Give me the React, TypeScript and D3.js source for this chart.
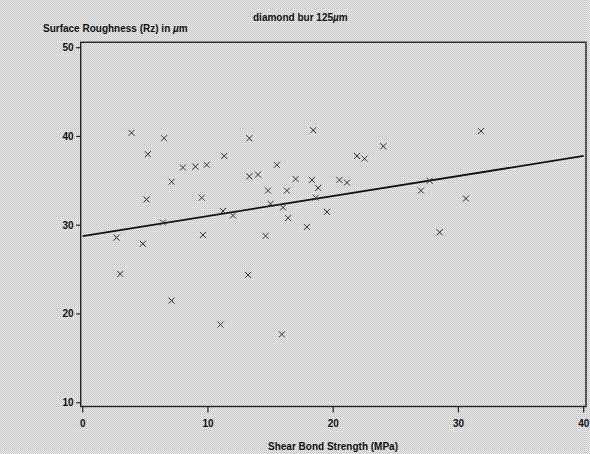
import React from 'react';
import * as d3 from 'd3';

// shear bond strength (MPa) vs surface roughness Rz (µm)
const shearBond = [
  2.7, 3.0, 3.9, 4.8, 5.2, 5.1, 6.5, 6.4, 7.1, 7.1, 8.0, 9.0, 9.5, 9.6, 9.9, 11.0,
  11.3, 11.2, 12.0, 13.3, 13.3, 13.2, 14.0, 14.6, 14.8, 15.0, 15.5, 15.9, 16.0, 16.3,
  16.4, 17.0, 17.9, 18.3, 18.4, 18.6, 18.8, 19.5, 20.5, 21.1, 21.9, 22.5, 24.0, 27.0,
  27.7, 28.5, 30.6, 31.8,
];
const roughness = [
  28.6, 24.5, 40.4, 27.9, 38.0, 32.9, 39.8, 30.3, 34.9, 21.5, 36.5, 36.6, 33.1, 28.9, 36.8, 18.8,
  37.8, 31.6, 31.1, 39.8, 35.5, 24.4, 35.7, 28.8, 33.9, 32.4, 36.8, 17.7, 32.0, 33.9,
  30.8, 35.2, 29.8, 35.1, 40.7, 33.1, 34.2, 31.5, 35.1, 34.8, 37.8, 37.5, 38.9, 33.9,
  35.0, 29.2, 33.0, 40.6,
];
const fitLine = [
  { x: 0, y: 28.78 },
  { x: 40, y: 37.8 },
];
const xTicks = [0, 10, 20, 30, 40];
const yTicks = [10, 20, 30, 40, 50];

const W = 590;
const H = 454;
const font = "'Liberation Sans', Arial, sans-serif";

export default function App() {
  const x = d3.scaleLinear().domain([0, 40]).range([82.7, 583.7]);
  const y = d3.scaleLinear().domain([10, 50]).range([402.7, 47.7]);
  const box = { left: 80.7, top: 42.3, right: 586, bottom: 406.5 };

  const line = d3
    .line<{ x: number; y: number }>()
    .x((d) => x(d.x))
    .y((d) => y(d.y));

  return (
    <svg
      width={W}
      height={H}
      style={{ position: 'absolute', left: 0, top: 0 }}
      fontFamily={font}
    >
      <defs>
        <pattern id="dither" width="2" height="2" patternUnits="userSpaceOnUse">
          <rect width="2" height="2" fill="#ececec" />
          <rect x="0" y="0" width="1" height="1" fill="#bdbdbd" />
          <rect x="1" y="1" width="1" height="1" fill="#cdcdcd" />
        </pattern>
      </defs>
      <rect width={W} height={H} fill="url(#dither)" shapeRendering="crispEdges" />

      {/* frame */}
      <rect
        x={box.left}
        y={box.top}
        width={box.right - box.left}
        height={box.bottom - box.top}
        fill="none"
        stroke="#222"
        strokeWidth={1.4}
      />

      {/* y axis */}
      {yTicks.map((t) => (
        <g key={'y' + t} transform={`translate(0,${y(t)})`}>
          <line x1={box.left - 4.5} x2={box.left} stroke="#222" strokeWidth={1.2} />
          <text x={73.5} dy="0.35em" textAnchor="end" fontSize={10} fontWeight="bold" fill="#111">
            {t}
          </text>
        </g>
      ))}

      {/* x axis */}
      {xTicks.map((t) => (
        <g key={'x' + t} transform={`translate(${x(t)},0)`}>
          <line y1={box.bottom} y2={box.bottom + 6} stroke="#222" strokeWidth={1.2} />
          <text y={427} textAnchor="middle" fontSize={10} fontWeight="bold" fill="#111">
            {t}
          </text>
        </g>
      ))}

      {/* regression line */}
      <path d={line(fitLine) || ''} fill="none" stroke="#111" strokeWidth={1.8} />

      {/* points */}
      {shearBond.map((v, i) => (
        <path
          key={i}
          transform={`translate(${x(v)},${y(roughness[i])})`}
          d="M-3,-3L3,3M-3,3L3,-3"
          stroke="#333"
          strokeWidth={1}
          fill="none"
        />
      ))}

      <text x={253} y={21} fontSize={10} fontWeight="bold" fill="#111">
        diamond bur 125<tspan fontStyle="italic">µ</tspan>m
      </text>
      <text x={43} y={32} fontSize={10} fontWeight="bold" fill="#111">
        Surface Roughness (Rz) in <tspan fontStyle="italic">µ</tspan>m
      </text>
      <text x={333} y={450} textAnchor="middle" fontSize={10} fontWeight="bold" fill="#111">
        Shear Bond Strength (MPa)
      </text>
    </svg>
  );
}
